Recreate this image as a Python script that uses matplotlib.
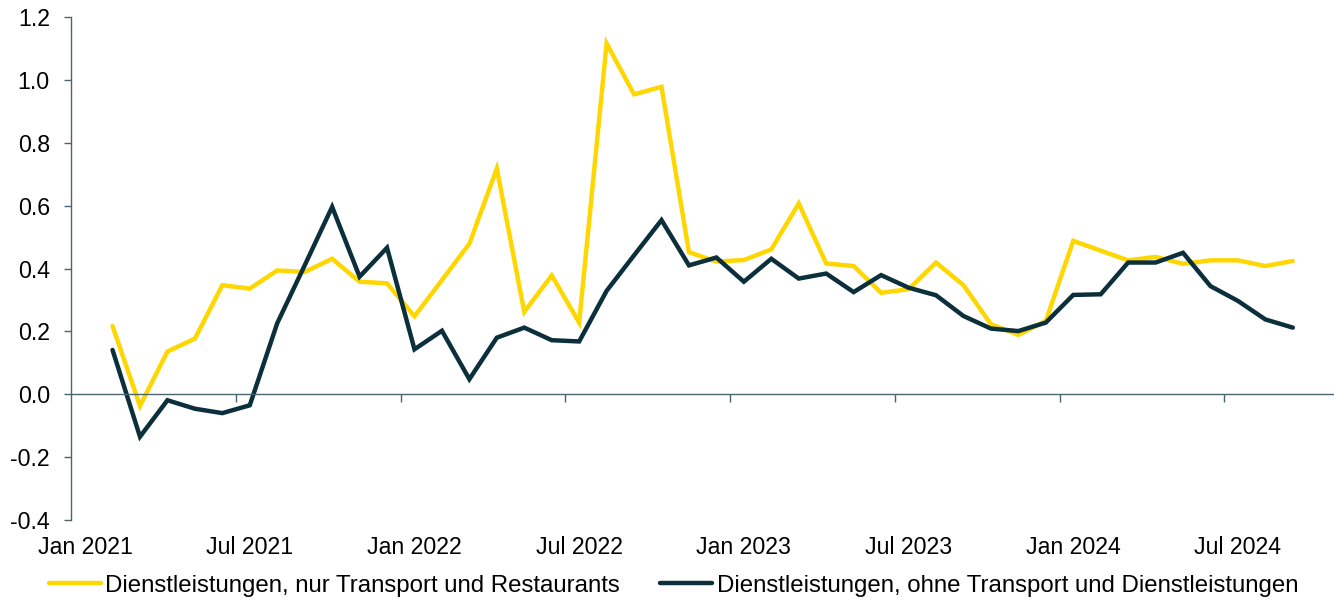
import numpy as np
import pandas as pd
import matplotlib
matplotlib.use("Agg")
import matplotlib.pyplot as plt

plt.rcParams["font.family"] = ["Liberation Sans", "DejaVu Sans"]

# monthly categories on the axis (Jan 2021 .. Oct 2024), data runs Feb 2021 .. Sep 2024
months = pd.date_range("2021-01-01", periods=46, freq="MS")
data_start = 1

transport_restaurants = [
    0.217, -0.037, 0.136, 0.177, 0.347, 0.336, 0.394, 0.389, 0.431, 0.358,
    0.353, 0.248, 0.363, 0.479, 0.718, 0.262, 0.378, 0.228, 1.116, 0.954,
    0.978, 0.452, 0.422, 0.427, 0.461, 0.607, 0.416, 0.408, 0.323, 0.334,
    0.419, 0.347, 0.223, 0.189, 0.233, 0.488, 0.457, 0.426, 0.437, 0.415,
    0.426, 0.426, 0.408, 0.424,
]
ohne_transport = [
    0.141, -0.135, -0.019, -0.046, -0.060, -0.035, 0.226, 0.410, 0.596, 0.374,
    0.466, 0.143, 0.202, 0.048, 0.180, 0.212, 0.172, 0.168, 0.329, 0.442,
    0.554, 0.410, 0.435, 0.358, 0.431, 0.368, 0.384, 0.325, 0.379, 0.339,
    0.315, 0.249, 0.209, 0.201, 0.228, 0.316, 0.318, 0.419, 0.419, 0.450,
    0.344, 0.297, 0.238, 0.212,
]
series_labels = [
    "Dienstleistungen, nur Transport und Restaurants",
    "Dienstleistungen, ohne Transport und Dienstleistungen",
]
series_colors = ["#FFD700", "#0B2F3B"]
yticks = [-0.4, -0.2, 0.0, 0.2, 0.4, 0.6, 0.8, 1.0, 1.2]

axis_color = "#4A6570"

fig = plt.figure(figsize=(13.34, 6.03), dpi=100)
ax = fig.add_axes([0.0535, 0.1376, 0.9465, 0.8342])

x = np.arange(data_start, data_start + len(transport_restaurants))
lines = []
for vals, lab, col in zip([transport_restaurants, ohne_transport], series_labels, series_colors):
    ln, = ax.plot(x, vals, color=col, lw=3.2, label=lab, solid_joinstyle="miter",
                  solid_capstyle="round")
    lines.append(ln)

ax.set_xlim(-0.5, len(months) - 0.5)
ax.set_ylim(-0.4, 1.2)
ax.set_yticks(yticks)
ax.set_yticklabels([f"{v:.1f}" for v in yticks])

# category axis crossing at zero, tick marks between categories, labels at the bottom
ax.spines["top"].set_visible(False)
ax.spines["right"].set_visible(False)
ax.spines["bottom"].set_position(("data", 0))
ax.spines["bottom"].set_color(axis_color)
ax.spines["left"].set_color(axis_color)
ax.spines["bottom"].set_linewidth(1)
ax.spines["left"].set_linewidth(1)

label_pos = np.arange(0, len(months), 6)
ax.set_xticks(label_pos)
ax.set_xticklabels([months[i].strftime("%b %Y") for i in label_pos])
ax.set_xticks(np.arange(5.5, len(months) - 1, 6), minor=True)
ax.tick_params(axis="x", which="major", length=0, pad=102, labelsize=16.7, colors="black")
ax.tick_params(axis="x", which="minor", length=6, width=1, color=axis_color, direction="out")
ax.tick_params(axis="y", length=5, width=1, color=axis_color, pad=10.5, labelsize=16.7)

fig.legend(handles=lines, labels=series_labels, loc="center",
           bbox_to_anchor=(0.505, 0.029), ncol=2, frameon=False, fontsize=17.3,
           handlelength=2.17, handletextpad=0.17, columnspacing=1.67)

fig.savefig("out.png", dpi=100)
